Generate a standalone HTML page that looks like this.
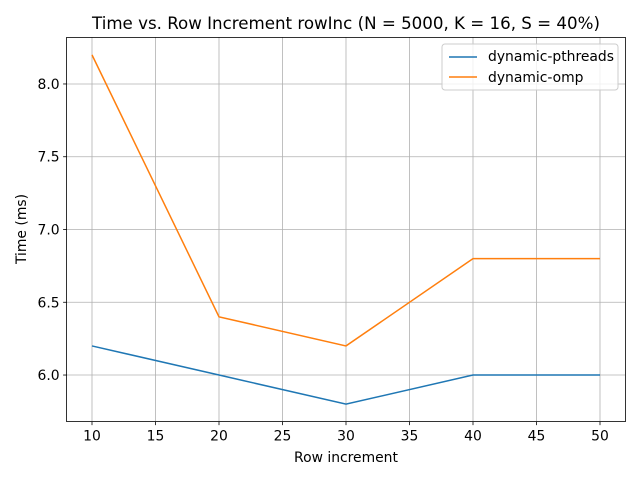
<!DOCTYPE html>
<html><head><meta charset="utf-8"><style>
body{margin:0;background:#fff;}
svg text{font-family:"DejaVu Sans","Liberation Sans",sans-serif;fill:#000;}
</style></head><body>
<svg id="chart" width="640" height="480" xmlns="http://www.w3.org/2000/svg">
<rect width="640" height="480" fill="#fff"/>
<text x="346" y="29" font-size="16.67" text-anchor="middle">Time vs. Row Increment rowInc (N = 5000, K = 16, S = 40%)</text>
<g id="grid"></g>
<g id="ticks"></g>
<g id="series"></g>
<rect x="66.6" y="37.4" width="558.8" height="384.2" fill="none" stroke="#000" stroke-width="0.8"/>
<text x="346" y="462" font-size="13.9" text-anchor="middle">Row increment</text>
<text transform="translate(26,229) rotate(-90)" font-size="13.9" text-anchor="middle">Time (ms)</text>
<g>
<rect x="442" y="44" width="176" height="46" fill="#fff" fill-opacity="0.8" stroke="#ccc" rx="3"/>
<line x1="449" y1="57" x2="477" y2="57" stroke="#1f77b4" stroke-width="1.5"/>
<text x="488" y="61" font-size="13.9">dynamic-pthreads</text>
<line x1="449" y1="77" x2="477" y2="77" stroke="#ff7f0e" stroke-width="1.5"/>
<text x="488" y="82" font-size="13.9">dynamic-omp</text>
</g>
</svg>
<script>
const xValues=[10,20,30,40,50];
const pthreads=[6.2,6.0,5.8,6.0,6.0];
const omp=[8.2,6.4,6.2,6.8,6.8];
const xTicks=[10,15,20,25,30,35,40,45,50];
const yTicks=[6.0,6.5,7.0,7.5,8.0];
const X0=66.6,X1=625.4,Y0=421.6,Y1=37.4,xmin=8,xmax=52,ymin=5.68,ymax=8.32;
const sx=v=>X0+(v-xmin)/(xmax-xmin)*(X1-X0);
const sy=v=>Y0-(v-ymin)/(ymax-ymin)*(Y0-Y1);
const NS="http://www.w3.org/2000/svg";
function mk(t,a,p){const e=document.createElementNS(NS,t);for(const k in a)e.setAttribute(k,a[k]);p.appendChild(e);return e;}
const grid=document.getElementById('grid'),ticks=document.getElementById('ticks'),ser=document.getElementById('series');
xTicks.forEach(v=>{const x=sx(v);
const g=mk('line',{x1:x,x2:x,y1:Y1,y2:Y0,stroke:'#b0b0b0','stroke-width':0.8},grid);


mk('line',{x1:x,x2:x,y1:Y0,y2:Y0+3.5,stroke:'#000','stroke-width':0.8},ticks);
const t=mk('text',{x:x,y:Y0+19,'font-size':13.9,'text-anchor':'middle'},ticks);t.textContent=v;

});
yTicks.forEach(v=>{const y=sy(v);
const g=mk('line',{x1:X0,x2:X1,y1:y,y2:y,stroke:'#b0b0b0','stroke-width':0.8},grid);


mk('line',{x1:X0-3.5,x2:X0,y1:y,y2:y,stroke:'#000','stroke-width':0.8},ticks);
const t=mk('text',{x:X0-7,y:y+5,'font-size':13.9,'text-anchor':'end'},ticks);t.textContent=v.toFixed(1);

});
function line(vals,color,name){const p=mk('polyline',{points:xValues.map((x,i)=>sx(x)+','+sy(vals[i])).join(' '),fill:'none',stroke:color,'stroke-width':1.5},ser);

}
line(pthreads,'#1f77b4','line-dynamic-pthreads');
line(omp,'#ff7f0e','line-dynamic-omp');
</script>
</body></html>
